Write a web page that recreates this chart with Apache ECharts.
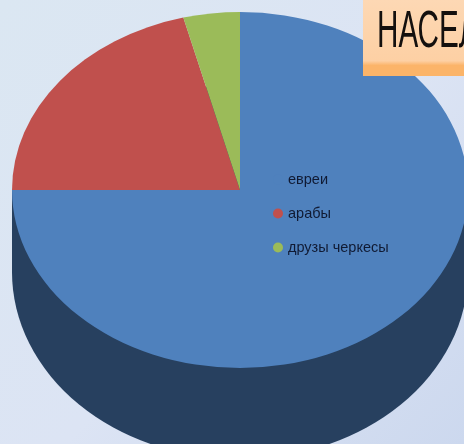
<!DOCTYPE html>
<html>
<head>
<meta charset="utf-8">
<style>html,body{margin:0;padding:0;overflow:hidden}#chart{width:464px;height:444px}</style>
<script src="https://cdn.jsdelivr.net/npm/echarts@6/dist/echarts.min.js"></script>
</head>
<body>
<div id="chart"></div>
<script>
// Population shares shown by the tilted pie
const categories = ['евреи', 'арабы', 'друзы черкесы'];
const shares = [75, 21, 4];
const colors = ['#4f81bd', '#c0504d', '#9bbb59'];
const titleText = 'НАСЕЛЕНИЕ';

// Ellipse geometry of the pie's top face and its extruded wall
const cx = 240, cy = 190, rx = 228, ry = 178;
const wallCy = 272, wallRy = 187;

const total = shares.reduce((a, b) => a + b, 0);
const startOf = i => -Math.PI / 2 +
  shares.slice(0, i).reduce((a, b) => a + b, 0) / total * Math.PI * 2;

// A circular sector squashed vertically into an ellipse
function ellipseSector(y, radY, a0, a1, fill) {
  return {
    type: 'sector',
    shape: { cx: cx, cy: y, r: rx, r0: 0, startAngle: a0, endAngle: a1, clockwise: true },
    originX: cx, originY: y, scaleY: radY / rx,
    style: { fill: fill }
  };
}

const wall = {
  name: 'wall',
  type: 'custom',
  coordinateSystem: 'none',
  silent: true,
  z: 1,
  data: [total],
  renderItem: () => ({
    type: 'group',
    children: [
      ellipseSector(wallCy, wallRy, 0, Math.PI * 2, '#27405f'),
      { type: 'rect', shape: { x: cx - rx, y: cy, width: rx * 2, height: wallCy - cy }, style: { fill: '#27405f' } }
    ]
  })
};

const slices = categories.map((name, i) => ({
  name: name,
  type: 'custom',
  coordinateSystem: 'none',
  silent: true,
  z: 2,
  itemStyle: { color: colors[i] },
  data: [shares[i]],
  renderItem: () => ellipseSector(cy, ry, startOf(i), startOf(i + 1), colors[i])
}));

const chart = echarts.init(document.getElementById('chart'), null, { renderer: 'canvas' });
chart.setOption({
  animation: false,
  backgroundColor: {
    type: 'linear', x: 0, y: 0, x2: 1, y2: 1,
    colorStops: [
      { offset: 0, color: '#dbe7f2' },
      { offset: 0.55, color: '#dce4f4' },
      { offset: 1, color: '#ccd8ee' }
    ]
  },
  legend: {
    data: categories,
    orient: 'vertical',
    left: 273,
    top: 172,
    padding: 0,
    icon: 'circle',
    itemWidth: 10,
    itemHeight: 10,
    itemGap: 19,
    selectedMode: false,
    textStyle: {
      color: '#101a33',
      fontFamily: 'Liberation Sans',
      fontSize: 14.5
    }
  },
  graphic: [
    {
      type: 'rect', z: 10, silent: true,
      shape: { x: 363, y: 0, width: 110, height: 76 },
      style: {
        fill: {
          type: 'linear', x: 0, y: 0, x2: 0, y2: 1,
          colorStops: [
            { offset: 0, color: '#fdd8b4' },
            { offset: 0.8, color: '#fdd0a4' },
            { offset: 0.86, color: '#fbb469' },
            { offset: 1, color: '#fbb469' }
          ]
        }
      }
    },
    {
      type: 'text', z: 11, silent: true,
      x: 377, y: 7,
      scaleX: 0.57,
      style: {
        text: titleText,
        fill: '#14100e',
        font: '52px "Liberation Sans"',
        textVerticalAlign: 'top'
      }
    }
  ],
  series: [wall].concat(slices)
});
</script>
</body>
</html>
